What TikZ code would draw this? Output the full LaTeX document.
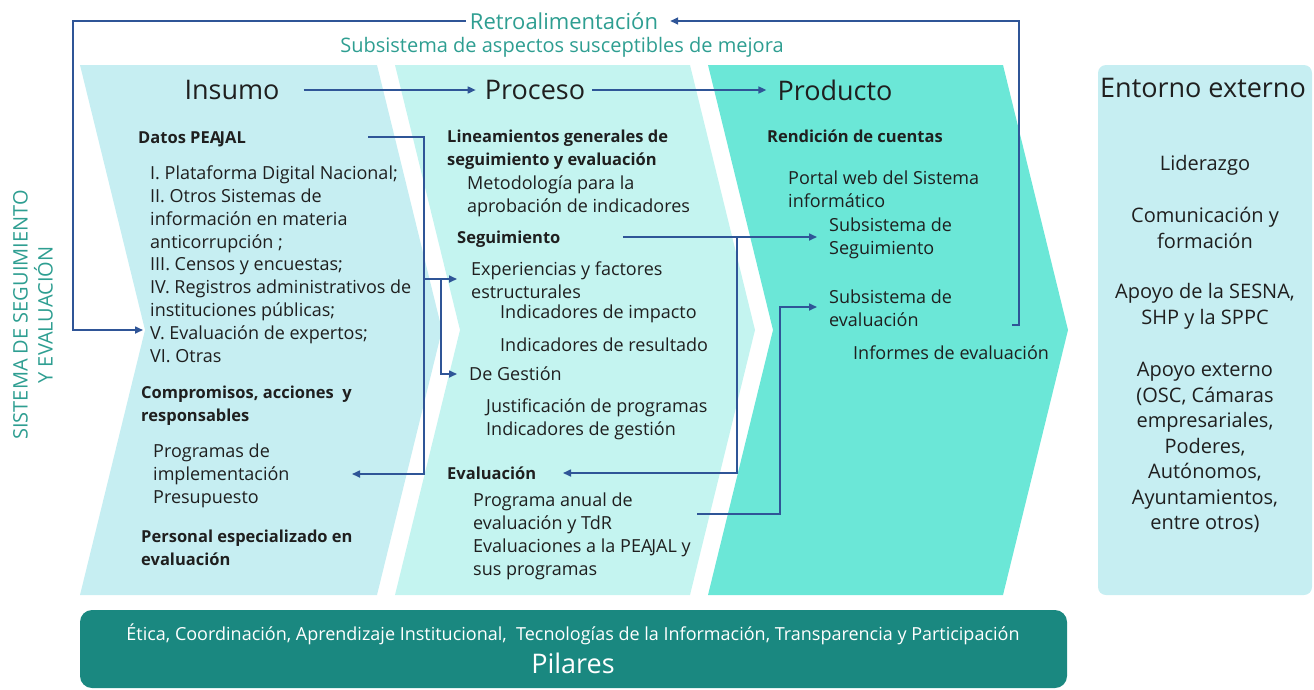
\documentclass[tikz,border=0pt]{standalone}
\usepackage{fontspec}
\setmainfont{Open Sans}
\usetikzlibrary{arrows.meta}
\definecolor{insfill}{HTML}{C6EEF2}
\definecolor{profill}{HTML}{C4F4F0}
\definecolor{prdfill}{HTML}{6BE7D7}
\definecolor{entfill}{HTML}{C6EEF2}
\definecolor{pilfill}{HTML}{1A8880}
\definecolor{tealtx}{HTML}{2E9E91}
\definecolor{lnblue}{HTML}{2F5597}
\definecolor{ink}{HTML}{1F1F1F}
\newcommand{\tstrut}{\rule{0pt}{16pt}}
\newcommand{\bodyfont}{\fontsize{18}{22.8}\selectfont}

\begin{document}
\begin{tikzpicture}[x=1pt, y=-1pt,
  >={Triangle[length=8pt, width=7pt]},
  arr/.style={->, line width=1.6pt, lnblue},
  txt/.style={anchor=north west, inner sep=0pt, align=left, font=\bodyfont, text=ink},
  bold/.style={txt, font=\fontsize{16.5}{22.8}\selectfont\bfseries},
  hdr/.style={inner sep=2pt, font=\fontsize{27}{32}\selectfont, text=ink},
  ctr/.style={anchor=north, inner sep=0pt, align=center,
    font=\fontsize{20}{25.5}\selectfont, text=ink},
]
\useasboundingbox (0,0) rectangle (1314,689);

% Chevrons
\fill[insfill] (80,65) -- (377,65) -- (442,330) -- (377,595) -- (80,595) -- (145,330) -- cycle;
\fill[profill] (395,65) -- (690,65) -- (755,330) -- (690,595) -- (395,595) -- (460,330) -- cycle;
\fill[prdfill] (708,65) -- (1003,65) -- (1068,330) -- (1003,595) -- (708,595) -- (773,330) -- cycle;

% Entorno externo and Pilares boxes
\fill[entfill, rounded corners=8pt] (1098,65) rectangle (1312,595);
\fill[pilfill, rounded corners=12pt] (80,610) rectangle (1067,688);

% Feedback labels
\node[text=tealtx, inner sep=2pt, font=\fontsize{22}{26}\selectfont] (retro) at (564,21)
  {Retroalimentación};
\node[text=tealtx, inner sep=0pt, font=\fontsize{20}{24}\selectfont] (asm) at (562,47)
  {Subsistema de aspectos susceptibles de mejora};
\node[text=tealtx, rotate=90, align=center, inner sep=0pt,
  font=\fontsize{20}{25}\selectfont] (sse) at (33,315)
  {SISTEMA DE SEGUIMIENTO\\Y EVALUACIÓN};

% Headers
\node[hdr] (insumo) at (232,90) {Insumo};
\node[hdr] (proceso) at (535,90) {Proceso};
\node[hdr] (producto) at (835,90) {Producto};
\node[hdr] (entorno) at (1203,88) {Entorno externo};

\draw[arr] ([xshift=22pt]insumo.east) -- ([xshift=-7pt]proceso.west);
\draw[arr] ([xshift=5pt]proceso.east) -- ([xshift=-9pt]producto.west);

% =============================================
% Insumo
% =============================================
\node[bold] (datos) at (138,127.5) {\tstrut Datos PEA\kern-1.5ptJAL};
\node[txt] (fuentes) at (150,163.5)
  {\tstrut I. Plataforma Digital Nacional;\\
   II. Otros Sistemas de\\
   información en materia\\
   anticorrupción ;\\
   III. Censos y encuestas;\\
   IV. Registros administrativos de\\
   instituciones públicas;\\
   V. Evaluación de expertos;\\
   VI. Otras};
\node[bold] (compro) at (141,382.5)
  {\tstrut Compromisos, acciones\ \ y\\ responsables};
\node[txt] (progr) at (153,441.5)
  {\tstrut Programas de\\ implementación\\ Presupuesto};
\node[bold] (personal) at (141,526.5)
  {\tstrut Personal especializado en\\ evaluación};

% =============================================
% Proceso
% =============================================
\node[bold] (linea) at (447,126.5)
  {\tstrut Lineamientos generales de\\ seguimiento y evaluación};
\node[txt] (metod) at (467,173.5)
  {\tstrut Metodología para la\\ aprobación de indicadores};
\node[bold] (seg) at (457,227.5) {\tstrut Seguimiento};
\node[txt] (exper) at (471,259.5)
  {\tstrut Experiencias y factores\\ estructurales};
\node[txt] (impacto) at (500,302.5) {\tstrut Indicadores de impacto};
\node[txt] (resul) at (500,335.5) {\tstrut Indicadores de resultado};
\node[txt] (gestion) at (469,364.5) {\tstrut De Gestión};
\node[txt] (justif) at (486,396.5)
  {\tstrut Justificación de programas\\ Indicadores de gestión};
\node[bold] (evalua) at (447,463.5) {\tstrut Evaluación};
\node[txt] (progan) at (473,490.5)
  {\tstrut Programa anual de\\ evaluación y TdR\\
   Evaluaciones a la PEA\kern-1ptJAL y\\ sus programas};

% =============================================
% Producto
% =============================================
\node[bold] (rendic) at (767,126.5) {\tstrut Rendición de cuentas};
\node[txt] (portal) at (788,168.5)
  {\tstrut Portal web del Sistema\\ informático};
\node[txt] (subseg) at (829,215.5)
  {\tstrut Subsistema de\\ Seguimiento};
\node[txt] (subeva) at (829,287.5)
  {\tstrut Subsistema de\\ evaluación};
\node[txt] (informes) at (853,343.5) {\tstrut Informes de evaluación};

% =============================================
% Entorno externo
% =============================================
\node[ctr] (lider) at (1205,154.5) {\tstrut Liderazgo};
\node[ctr] (comun) at (1205,206.5) {\tstrut Comunicación y\\ formación};
\node[ctr] (sesna) at (1205,282.5) {\tstrut Apoyo de la SESNA,\\ SHP y la SPPC};
\node[ctr] (apext) at (1205,360.5)
  {\tstrut Apoyo externo\\ (OSC, Cámaras\\ empresariales,\\ Poderes,\\
   Autónomos,\\ Ayuntamientos,\\ entre otros)};

% =============================================
% Pilares
% =============================================
\node[text=white, inner sep=0pt, font=\fontsize{18}{21}\selectfont] (valores) at (573,634)
  {Ética, Coordinación, Aprendizaje Institucional,\ \ Tecnologías de la Información, Transparencia y Participación};
\node[text=white, inner sep=0pt, font=\fontsize{27}{32}\selectfont] (pilares) at (573,663)
  {Pilares};

% =============================================
% Connectors
% =============================================
\coordinate (dout) at (368,137);
\coordinate (dbus) at (424,279);
\coordinate (progin) at (352,474);
\coordinate (expin) at (457,279);
\coordinate (gesin) at (457,374);
\coordinate (segout) at (623,237);
\coordinate (segbus) at (737,237);
\coordinate (subsegin) at (817,237);
\coordinate (evalin) at (563,473);
\coordinate (pout) at (697,514);
\coordinate (subevain) at (817,307);
\coordinate (fbout) at (1012,325);
\coordinate (vin) at (143,330);

\draw[arr] (dout) -- (dout -| dbus) |- (progin);
\draw[arr] (dbus) -- (expin);
\draw[arr] (dbus) -- ++(17,0) |- (gesin);
\draw[arr] (segout) -- (subsegin);
\draw[arr] (segbus) |- (evalin);
\draw[arr] (pout) -- ++(83,0) |- (subevain);

% Feedback loop
\draw[arr] (fbout) -- ++(7,0) |- ([xshift=10pt]retro.east);
\draw[arr] ([xshift=-2pt]retro.west) -| ([xshift=-70pt]vin) -- (vin);

\end{tikzpicture}
\end{document}
